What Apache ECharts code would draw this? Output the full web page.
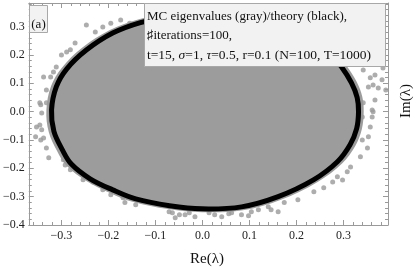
<!DOCTYPE html>
<html><head><meta charset="utf-8">
<script src="https://cdn.jsdelivr.net/npm/echarts@6/dist/echarts.min.js"></script>
<style>html,body{margin:0;padding:0;background:#fff}#c{width:415px;height:270px}</style>
</head><body><div id="c"></div>
<script>
// ---- data ----
const xTicks = [-0.3, -0.2, -0.1, 0, 0.1, 0.2, 0.3];
const yTicks = [-0.4, -0.3, -0.2, -0.1, 0, 0.1, 0.2, 0.3];
const xRange = [-0.3695, 0.3947];
const yRange = [-0.4, 0.383];
// theory boundary (black curve)
const theoryCurve = [
  [0.328,-0.06],[0.332,0.00],[0.329,0.05],[0.317,0.101],[0.296,0.157],[0.265,0.22],[0.215,0.27],
  [0.15,0.31],[0.07,0.337],[0.005,0.342],[-0.07,0.335],[-0.132,0.314],[-0.191,0.277],[-0.247,0.217],
  [-0.289,0.150],[-0.311,0.087],[-0.321,0.006],[-0.316,-0.07],[-0.298,-0.135],[-0.279,-0.185],
  [-0.239,-0.237],[-0.191,-0.276],[-0.142,-0.308],[-0.07,-0.332],[-0.001,-0.343],[0.083,-0.336],
  [0.161,-0.300],[0.237,-0.240],[0.287,-0.177],[0.314,-0.117]
];
// outer edge of the dense cloud of MC eigenvalues
const denseCloud = [
  [0.339,-0.062],[0.343,0.000],[0.340,0.052],[0.328,0.105],[0.306,0.163],[0.274,0.228],[0.222,0.279],
  [0.155,0.321],[0.072,0.349],[0.005,0.354],[-0.073,0.347],[-0.137,0.325],[-0.198,0.287],[-0.256,0.225],
  [-0.299,0.155],[-0.322,0.090],[-0.332,0.006],[-0.327,-0.072],[-0.309,-0.140],[-0.289,-0.191],
  [-0.247,-0.245],[-0.198,-0.286],[-0.147,-0.319],[-0.073,-0.344],[-0.001,-0.355],[0.086,-0.348],
  [0.167,-0.311],[0.245,-0.248],[0.297,-0.183],[0.325,-0.121]
];
// individual MC eigenvalues scattered around the edge
const outlierEigs = [
  [-0.247,0.305],[-0.228,0.281],[-0.195,0.312],[-0.212,0.298],[-0.289,0.210],[-0.300,0.200],
  [-0.311,0.157],[-0.317,0.140],[-0.323,0.122],[-0.338,0.122],[-0.332,0.076],[-0.344,0.024],
  [-0.342,-0.005],[-0.332,0.031],[-0.271,0.242],[-0.281,0.218],[-0.155,0.312],[-0.174,0.323],
  [-0.346,0.031],[-0.346,-0.047],[-0.353,-0.054],[-0.342,-0.064],[-0.355,-0.089],[-0.344,-0.100],
  [-0.338,-0.093],[-0.332,-0.128],[-0.327,-0.163],[-0.296,-0.170],[-0.292,-0.188],[-0.281,-0.205],
  [-0.254,-0.240],[-0.233,-0.248],[-0.212,-0.276],[-0.195,-0.293],[-0.169,-0.304],[-0.142,-0.329],
  [-0.165,-0.321],[-0.064,-0.357],[-0.037,-0.364],[-0.016,-0.371],[-0.058,-0.374],[0.014,-0.357],
  [0.041,-0.371],[0.062,-0.357],[0.083,-0.364],[0.104,-0.353],[0.119,-0.346],[0.140,-0.336],
  [-0.071,-0.353],[-0.049,-0.364],[-0.028,-0.357],[0.026,-0.364],[0.056,-0.360],[0.098,-0.367],
  [0.146,-0.346],[0.161,-0.353],[0.174,-0.321],[0.203,-0.311],[0.237,-0.283],[0.258,-0.269],
  [0.277,-0.248],[0.298,-0.241],[0.287,-0.230],[0.308,-0.212],[0.315,-0.195],[0.336,-0.159],
  [0.351,-0.128],[0.340,-0.100],[0.353,-0.089],[0.384,0.154],[0.382,0.112],[0.374,0.083],
  [0.390,0.076],[0.363,0.094],[0.367,0.041],[0.363,-0.001],[0.361,-0.019],[0.342,0.147],
  [0.357,0.119],[0.367,0.129],[0.353,0.087],[0.342,0.031],[0.361,0.006],[0.340,-0.019],[0.357,-0.054]
];
const legendLines = [
  'MC eigenvalues (gray)/theory (black),',
  '\u266Fiterations=100,',
  't=15, {i|\u03C3}=1, {i|\u03C4}=0.5, r=0.1 (N=100, T=1000)'
];
const panelLabel = '(a)';
const xName = 'Re(\u03BB)';
const yName = 'Im(\u03BB)';

// ---- styling ----
const SERIF = 'Liberation Serif, Times New Roman, serif';
const FRAME = '#9a9a9a';
const fmt = v => (v < 0 ? '\u2212' : '') + Math.abs(v).toFixed(1);
function minorOf(range, majors) {
  const out = [];
  const step = 0.02;
  for (let v = Math.ceil(range[0] / step) * step; v <= range[1] + 1e-9; v += step) {
    const r = Math.round(v * 1000) / 1000;
    if (!majors.some(m => Math.abs(m - r) < 1e-6)) out.push(r);
  }
  return out;
}
const xMinor = minorOf(xRange, xTicks);
const yMinor = minorOf(yRange, yTicks);

function xAx(pos, vals, len, labels, line) {
  return {
    type: 'value', position: pos, min: xRange[0], max: xRange[1],
    axisLine: { show: line, onZero: false, lineStyle: { color: FRAME, width: 1 } },
    axisTick: { show: true, inside: true, length: len, customValues: vals, lineStyle: { color: FRAME } },
    axisLabel: labels ? { show: true, customValues: vals, formatter: fmt, fontFamily: SERIF, fontSize: 12, color: '#222', margin: 5 } : { show: false },
    splitLine: { show: false }
  };
}
function yAx(pos, vals, len, labels, line) {
  return {
    type: 'value', position: pos, min: yRange[0], max: yRange[1],
    axisLine: { show: line, onZero: false, lineStyle: { color: FRAME, width: 1 } },
    axisTick: { show: true, inside: true, length: len, customValues: vals, lineStyle: { color: FRAME } },
    axisLabel: labels ? { show: true, customValues: vals, formatter: fmt, fontFamily: SERIF, fontSize: 12, color: '#222', margin: 4 } : { show: false },
    splitLine: { show: false }
  };
}

function closedShape(points, style) {
  return function (params, api) {
    const pts = points.map(p => api.coord(p));
    return { type: 'polygon', shape: { points: pts, smooth: 0.35 }, style: style };
  };
}

const chart = echarts.init(document.getElementById('c'), null, { renderer: 'canvas' });
chart.setOption({
  animation: false,
  backgroundColor: '#fff',
  grid: { left: 25, right: 27, top: 3, bottom: 45 },
  xAxis: [
    xAx('bottom', xTicks, 5, true, true),
    xAx('bottom', xMinor, 3, false, false),
    xAx('top', xTicks, 5, false, true),
    xAx('top', xMinor, 3, false, false)
  ],
  yAxis: [
    yAx('left', yTicks, 5, true, true),
    yAx('left', yMinor, 3, false, false),
    yAx('right', yTicks, 5, false, true),
    yAx('right', yMinor, 3, false, false)
  ],
  series: [
    {
      type: 'custom', name: 'MC cloud', xAxisIndex: 0, yAxisIndex: 0, silent: true,
      data: [[0, 0]],
      renderItem: closedShape(denseCloud, { fill: '#9c9c9c', stroke: null }),
      z: 1
    },
    {
      type: 'scatter', name: 'MC eigenvalues', xAxisIndex: 0, yAxisIndex: 0, data: outlierEigs,
      symbol: 'circle', symbolSize: 5, itemStyle: { color: '#999999' }, z: 2
    },
    {
      type: 'custom', name: 'theory', xAxisIndex: 0, yAxisIndex: 0, silent: true,
      data: [[0, 0]],
      renderItem: closedShape(theoryCurve, { fill: 'none', stroke: '#000', lineWidth: 5 }),
      z: 3
    }
  ],
  graphic: [
    { type: 'rect', z: 100, shape: { x: 144.5, y: 3.5, width: 241, height: 63 },
      style: { fill: '#f2f2f2', stroke: '#a8a8a8', lineWidth: 1 } },
    ...legendLines.map((t, i) => ({
      type: 'text', z: 101, x: 147, y: 17 + i * 19,
      style: {
        text: t, font: (i === 2 ? '13.5px ' : '13px ') + SERIF, fill: '#111', verticalAlign: 'middle', align: 'left',
        rich: { i: { fontStyle: 'italic', fontFamily: SERIF, fontSize: 13.5, fill: '#111' } }
      }
    })),
    { type: 'rect', z: 100, shape: { x: 29.5, y: 5.5, width: 18, height: 27 },
      style: { fill: '#f2f2f2', stroke: '#a8a8a8', lineWidth: 1 } },
    { type: 'text', z: 101, x: 38.5, y: 25, style: { text: panelLabel, font: '13px ' + SERIF, fill: '#111', align: 'center', verticalAlign: 'middle' } },
    { type: 'text', z: 101, x: 207, y: 259, style: { text: xName, font: '15px ' + SERIF, fill: '#111', align: 'center', verticalAlign: 'middle' } },
    { type: 'text', z: 101, x: 406, y: 101, rotation: Math.PI / 2, style: { text: yName, font: '15px ' + SERIF, fill: '#111', align: 'center', verticalAlign: 'middle' } }
  ]
});
</script>
</body></html>
